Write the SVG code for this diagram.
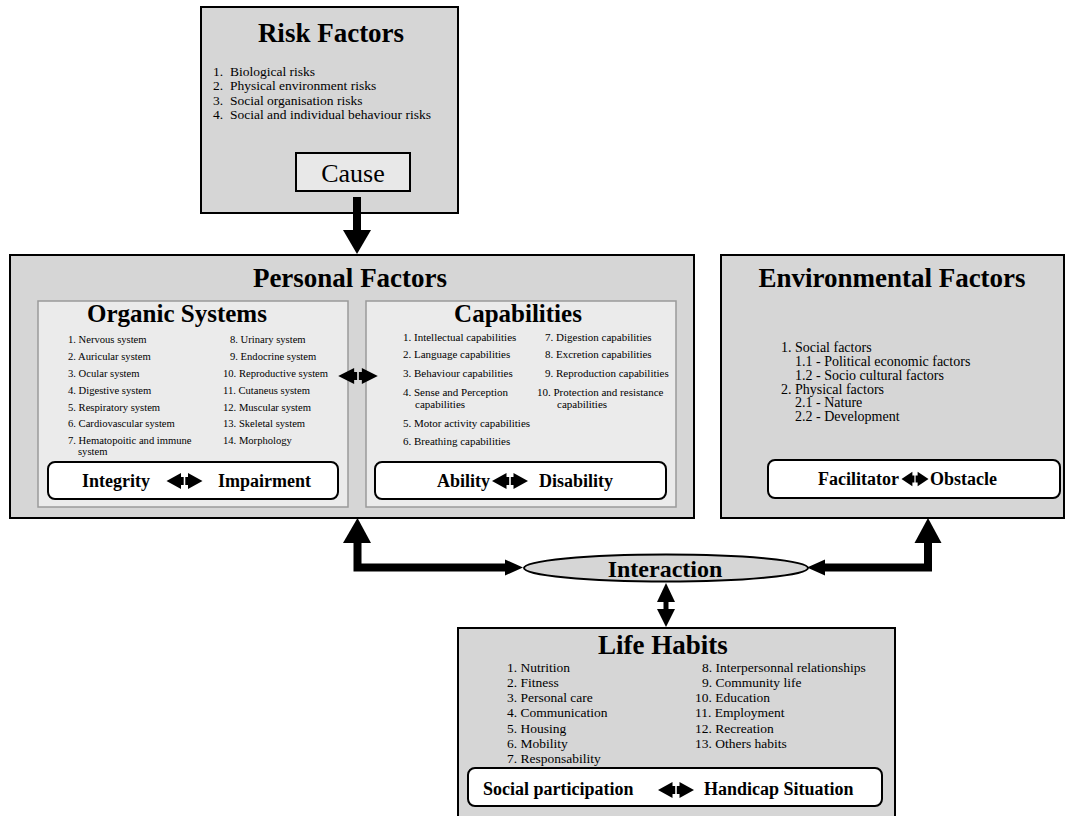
<svg xmlns="http://www.w3.org/2000/svg" xmlns:xlink="http://www.w3.org/1999/xlink" width="1069" height="816" viewBox="0 0 1069 816">
<style>
text{font-family:"Liberation Serif","Times New Roman",serif;fill:#000}
.box{fill:#d6d6d6;stroke:#000;stroke-width:2}
.panel{fill:#ebebeb;stroke:#9a9a9a;stroke-width:1.5}
.pill{fill:#fff;stroke:#000;stroke-width:2}
.title{font-size:27px;font-weight:bold;text-anchor:middle}
.sub{font-size:25px;font-weight:bold;text-anchor:middle}
.lbl{font-size:18px;font-weight:bold}
.sm{font-size:10.6px}
.cap{font-size:11px}
.md{font-size:13.5px}
.env{font-size:14px}
.conn{fill:none;stroke:#000;stroke-width:8}
.head{fill:#000}
</style>
<defs>
<g id="dbl">
<polygon points="-18,0 -3.5,-8 -3.5,-4 -0.8,-4 -0.8,4 -3.5,4 -3.5,8"/>
<polygon points="18,0 3.5,-8 3.5,-4 0.8,-4 0.8,4 3.5,4 3.5,8"/>
</g>
</defs>

<g id="risk-factors">
<rect class="box" x="201" y="7" width="257" height="206"/>
<text class="title" x="331" y="42">Risk Factors</text>
<text class="md" x="213" y="75.5">1.<tspan x="230">Biological risks</tspan></text>
<text class="md" x="213" y="90">2.<tspan x="230">Physical environment risks</tspan></text>
<text class="md" x="213" y="104.5">3.<tspan x="230">Social organisation risks</tspan></text>
<text class="md" x="213" y="119">4.<tspan x="230">Social and individual behaviour risks</tspan></text>
<g id="cause">
<rect x="296" y="153" width="114" height="38" fill="#e8e8e8" stroke="#000" stroke-width="2"/>
<text x="353" y="182" font-size="26" text-anchor="middle">Cause</text>
</g>
</g>

<g id="personal-factors">
<rect class="box" x="10" y="255" width="684" height="263"/>
<text class="title" x="350" y="287">Personal Factors</text>
<g id="organic-systems">
<rect class="panel" x="38" y="301" width="310" height="206"/>
<text class="sub" x="177" y="322">Organic Systems</text>
<text class="sm" x="68" y="343">1. Nervous system</text>
<text class="sm" x="68" y="360">2. Auricular system</text>
<text class="sm" x="68" y="377">3. Ocular system</text>
<text class="sm" x="68" y="393.5">4. Digestive system</text>
<text class="sm" x="68" y="410.5">5. Respiratory system</text>
<text class="sm" x="68" y="427">6. Cardiovascular system</text>
<text class="sm" x="68" y="444">7. Hematopoitic and immune<tspan x="78" y="454.5">system</tspan></text>
<text class="sm" x="230" y="343">8. Urinary system</text>
<text class="sm" x="230" y="360">9. Endocrine system</text>
<text class="sm" x="223" y="377">10. Reproductive system</text>
<text class="sm" x="223" y="393.5">11. Cutaneus system</text>
<text class="sm" x="223" y="410.5">12. Muscular system</text>
<text class="sm" x="223" y="427">13. Skeletal system</text>
<text class="sm" x="223" y="444">14. Morphology</text>
<rect class="pill" x="48" y="462" width="290" height="37" rx="7"/>
<text class="lbl" x="82" y="487">Integrity</text>
<use xlink:href="#dbl" href="#dbl" transform="translate(184.5,481)"/>
<text class="lbl" x="218" y="487">Impairment</text>
</g>
<g id="capabilities">
<rect class="panel" x="366" y="301" width="310" height="206"/>
<text class="sub" x="518" y="322">Capabilities</text>
<text class="cap" x="403" y="341">1. Intellectual capabilities</text>
<text class="cap" x="403" y="358">2. Language capabilities</text>
<text class="cap" x="403" y="377">3. Behaviour capabilities</text>
<text class="cap" x="403" y="396">4. Sense and Perception<tspan x="415" y="407.5">capabilities</tspan></text>
<text class="cap" x="403" y="427">5. Motor activity capabilities</text>
<text class="cap" x="403" y="445">6. Breathing capabilities</text>
<text class="cap" x="545" y="341">7. Digestion capabilities</text>
<text class="cap" x="545" y="358">8. Excretion capabilities</text>
<text class="cap" x="545" y="377">9. Reproduction capabilities</text>
<text class="cap" x="537" y="396">10. Protection and resistance<tspan x="557" y="407.5">capabilities</tspan></text>
<rect class="pill" x="375" y="462" width="291" height="37" rx="7"/>
<text class="lbl" x="437" y="487">Ability</text>
<use xlink:href="#dbl" href="#dbl" transform="translate(510,481)"/>
<text class="lbl" x="539" y="487">Disability</text>
</g>
</g>

<g id="environmental-factors">
<rect class="box" x="721" y="255" width="343" height="263"/>
<text class="title" x="892" y="287">Environmental Factors</text>
<text class="env" x="781" y="352">1. Social factors</text>
<text class="env" x="795" y="366">1.1 - Political economic factors</text>
<text class="env" x="795" y="380">1.2 - Socio cultural factors</text>
<text class="env" x="781" y="393.5">2. Physical factors</text>
<text class="env" x="795" y="407">2.1 - Nature</text>
<text class="env" x="795" y="421">2.2 - Development</text>
<rect class="pill" x="768" y="460" width="292" height="38" rx="7"/>
<text class="lbl" x="818" y="485">Facilitator</text>
<use xlink:href="#dbl" href="#dbl" transform="translate(915,479) scale(0.75,0.9)"/>
<text class="lbl" x="930" y="485">Obstacle</text>
</g>

<g id="interaction">
<ellipse cx="666" cy="568" rx="142" ry="13.5" fill="#d6d6d6" stroke="#000" stroke-width="2"/>
<text x="665" y="577" font-size="24" font-weight="bold" text-anchor="middle">Interaction</text>
</g>

<g id="life-habits">
<rect class="box" x="458" y="628" width="437" height="195"/>
<text class="title" x="663" y="654">Life Habits</text>
<text class="md" x="507" y="672">1. Nutrition</text>
<text class="md" x="507" y="687">2. Fitness</text>
<text class="md" x="507" y="702">3. Personal care</text>
<text class="md" x="507" y="717">4. Communication</text>
<text class="md" x="507" y="732.5">5. Housing</text>
<text class="md" x="507" y="748">6. Mobility</text>
<text class="md" x="507" y="763">7. Responsability</text>
<text class="md" x="702" y="672">8. Interpersonnal relationships</text>
<text class="md" x="702" y="687">9. Community life</text>
<text class="md" x="695" y="702">10. Education</text>
<text class="md" x="695" y="717">11. Employment</text>
<text class="md" x="695" y="732.5">12. Recreation</text>
<text class="md" x="695" y="748">13. Others habits</text>
<rect class="pill" x="468" y="768" width="414" height="38" rx="7"/>
<text class="lbl" x="483" y="795">Social participation</text>
<use xlink:href="#dbl" href="#dbl" transform="translate(676,790)"/>
<text class="lbl" x="704" y="795">Handicap Situation</text>
</g>

<g id="connectors">
<line class="conn" x1="357" y1="197" x2="357" y2="232"/>
<polygon class="head" points="343,230 371,230 357,254"/>
<use xlink:href="#dbl" href="#dbl" transform="translate(358,376) scale(1.1,1)"/>
<path class="conn" d="M357.5,541 V567.5 H508" stroke-linejoin="miter"/>
<polygon class="head" points="357.5,518 343,543 371,543"/>
<polygon class="head" points="523,567.5 505,559.5 505,575.5"/>
<path class="conn" d="M928,541 V567.5 H822" stroke-linejoin="miter"/>
<polygon class="head" points="928,518 914.5,543 941.5,543"/>
<polygon class="head" points="807,567.5 825,559.5 825,575.5"/>
<line x1="666" y1="600" x2="666" y2="612" stroke="#000" stroke-width="5"/>
<polygon class="head" points="666,583 657,602 675,602"/>
<polygon class="head" points="666,627 657,609 675,609"/>
</g>
</svg>
